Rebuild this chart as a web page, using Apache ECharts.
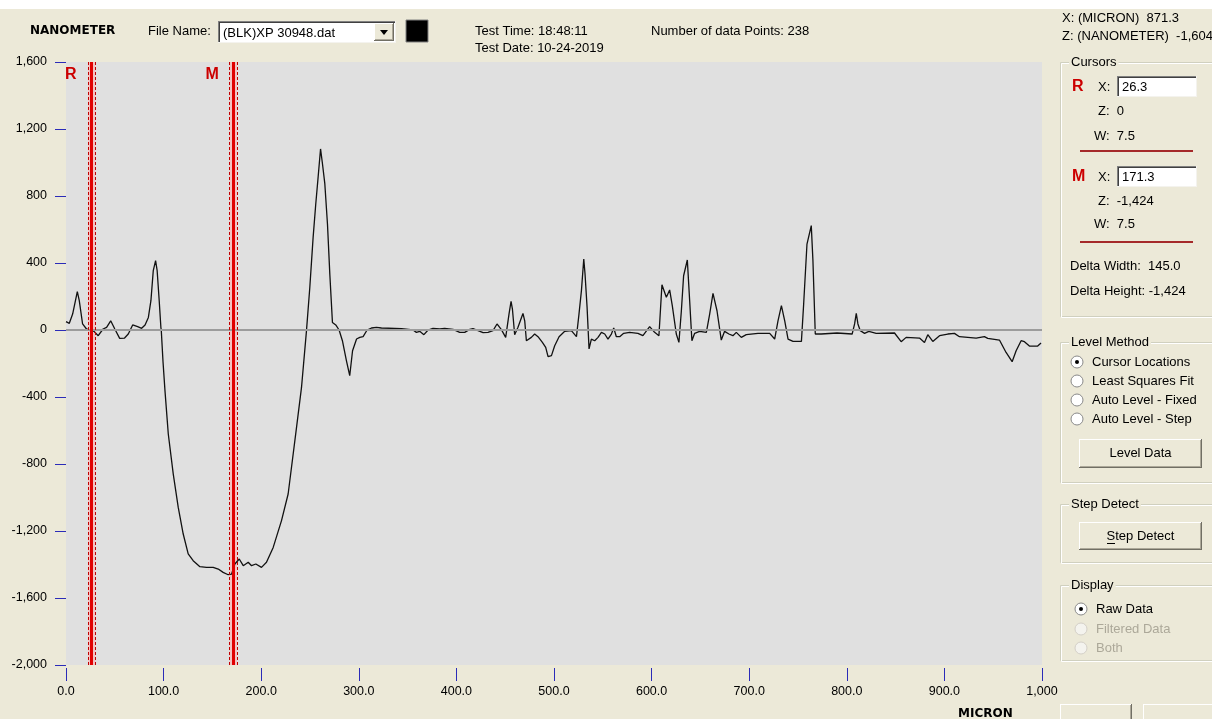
<!DOCTYPE html>
<html><head><meta charset="utf-8">
<script src="https://cdn.jsdelivr.net/npm/echarts@6/dist/echarts.min.js"></script>
<style>html,body{margin:0;padding:0;background:#ECE9D8;}#c{width:1212px;height:719px;}</style>
</head><body><div id="c"></div>
<script>
// ---------- data ----------
const xMicron = [0,3.4,6.8,11.6,13.6,17,21,24.6,28.7,33,38,41.6,45.8,50,55,60,63.8,68.3,73.4,77.5,81,84.4,87,89.4,91.8,93.4,95.5,97.2,97.6,99.4,101.4,104.8,109.9,115,120.1,125.2,130.3,137.2,144,150.8,156,161,166.2,169.7,173,177.5,181.6,186.7,190.1,194.5,200.3,205.4,212.3,220.8,227.6,236.2,241.3,246.4,249.8,253.2,255.9,258.3,260.8,262.8,265.2,267.9,270.3,273,276.4,279.8,283.2,287.3,290.7,293.6,297.7,301,304.4,308.5,313,318.1,323.2,343.7,355.6,359,362.4,366.7,371,376,383,388,396.6,403.4,408.5,413.7,417,422.2,427.3,432.4,437.5,441.6,446.1,450.5,453.9,456,457.4,459.7,463.1,468.2,470,471.7,476.8,480.2,483.6,488.1,491.5,493.9,497.4,500.7,505.2,511,517.8,523,525.6,528.1,530.5,531.8,533.9,535.9,538.3,541.7,545.1,548.6,552,555.3,558.8,561.2,563.9,567.3,571.4,577.5,586,591.1,598,603.1,607.5,610.6,615.1,618.5,621.2,625.3,628,630.5,632.8,636.6,639,641.3,644.1,649.2,656.1,659.5,662.9,667,671.4,674.8,679.2,683.3,686.8,691.9,697,709,721,726.1,729.5,733,736.4,739.8,744.9,753.5,755.8,759.2,763.6,765.3,767.7,773.8,790,805.5,808,809.7,811.4,813.8,818.2,822.6,830.1,848.9,855.7,860.8,874.5,879.6,883,888.1,895,903.5,910.3,915.4,932.5,941,944.4,956.4,963.2,969.4,973.5,978.6,982,987.1,995.6,999];
const zNano = [50,40,95,229,175,36,6,0,-8,-34,6,16,55,6,-50,-48,-24,30,20,10,30,75,175,354,414,354,175,16,0,-190,-362,-621,-860,-1059,-1218,-1337,-1377,-1413,-1417,-1417,-1427,-1447,-1461,-1457,-1397,-1367,-1407,-1387,-1407,-1397,-1417,-1387,-1298,-1138,-979,-581,-343,-4,254,553,752,911,1081,991,872,633,334,45,30,0,-64,-183,-273,-124,-54,-44,-40,0,12,16,12,8,0,-14,-8,-28,0,10,6,10,4,-14,-14,4,8,-4,-16,-14,-4,36,2,-44,95,171,125,-28,16,99,55,-64,-44,-24,-40,-74,-104,-159,-153,-94,-40,-8,-4,-40,95,235,424,334,135,-113,-54,-64,-44,-14,-24,-54,-24,12,-40,-40,-20,-14,-20,-34,20,-14,-34,270,195,239,145,-24,-74,115,324,418,175,-64,-20,-8,-14,95,219,115,-60,-8,-24,-34,-14,-44,-28,-20,-20,-54,55,145,55,-54,-68,-68,155,513,623,414,-24,-24,-18,-24,36,99,36,-4,-20,-8,-20,-18,-70,-44,-48,-74,-28,-68,-34,-24,-20,-40,-48,-40,-50,-60,-134,-189,-124,-64,-70,-96,-96,-78];
const xTickLabels = ['0.0','100.0','200.0','300.0','400.0','500.0','600.0','700.0','800.0','900.0','1,000'];
const yTickLabels = ['-2,000','-1,600','-1,200','-800','-400','0','400','800','1,200','1,600'];
const cursorNames = ['R','M'];
const cursorX = [26.3, 171.3];
const cursorW = 7.5;

// ---------- helpers for the window chrome ----------
const FONT = '"Liberation Sans", Arial, sans-serif';
const BOLDFONT = '"DejaVu Sans", Verdana, sans-serif';
const BEIGE = '#ECE9D8';
function txt(x, y, s, o) {
  o = o || {};
  return {type:'text', x:x, y:y, z:100, silent:true, style:{
    text:s, fill:o.fill||'#000', fontSize:o.size||13, fontWeight:o.weight||'normal',
    fontFamily:o.family||FONT, verticalAlign:'middle', align:o.align||'left',
    backgroundColor:o.bg||null, padding:o.pad||0}};
}
function rect(x,y,w,h,fill,stroke,lw){return {type:'rect',z:90,silent:true,shape:{x:x,y:y,width:w,height:h},style:{fill:fill||'none',stroke:stroke||null,lineWidth:lw||1}};}
function line(x1,y1,x2,y2,stroke,lw){return {type:'line',z:95,silent:true,shape:{x1:x1,y1:y1,x2:x2,y2:y2},style:{stroke:stroke,lineWidth:lw||1}};}
function groupBox(x1,y1,x2,y2,label){
  return [rect(x1+0.5,y1+0.5,x2-x1,y2-y1,'none','#D0D0BF',1),
          rect(x1+1.5,y1+1.5,x2-x1,y2-y1,'none','#FFFFFF',1),
          txt(x1+9, y1, label, {bg:BEIGE, pad:[0,2]})];
}
function button(x,y,w,h,label){
  const els=[rect(x,y,w,h,BEIGE,null),
    line(x,y+0.5,x+w,y+0.5,'#FFFFFF'), line(x+0.5,y,x+0.5,y+h,'#FFFFFF'),
    line(x,y+h-0.5,x+w,y+h-0.5,'#716F64'), line(x+w-0.5,y,x+w-0.5,y+h,'#716F64'),
    line(x+1,y+h-1.5,x+w-1,y+h-1.5,'#ACA899'), line(x+w-1.5,y+1,x+w-1.5,y+h-1,'#ACA899')];
  if(label) els.push(txt(x+w/2, y+h/2, label, {align:'center'}));
  return els;
}
function textBox(x,y,w,h,val){
  return [rect(x,y,w,h,'#FFFFFF',null),
    line(x,y+0.5,x+w,y+0.5,'#808080'), line(x+0.5,y,x+0.5,y+h,'#808080'),
    line(x+1,y+1.5,x+w-1,y+1.5,'#404040'), line(x+1.5,y+1,x+1.5,y+h-1,'#404040'),
    line(x,y+h-0.5,x+w,y+h-0.5,'#F4F3EE'), line(x+w-0.5,y,x+w-0.5,y+h,'#F4F3EE'),
    txt(x+5, y+h/2+1, val)];
}
function radio(cx,cy,label,checked,disabled){
  const els=[{type:'circle',z:95,silent:true,shape:{cx:cx,cy:cy,r:6},style:{fill:disabled?'#F4F3EE':'#FFFFFF',stroke:disabled?'#D4D0C8':'#8A8A8A',lineWidth:1}}];
  if(checked) els.push({type:'circle',z:96,silent:true,shape:{cx:cx,cy:cy,r:2},style:{fill:'#000'}});
  els.push(txt(cx+15, cy, label, {fill:disabled?'#ACA899':'#000'}));
  return els;
}

let G = [];
G.push(rect(0,0,1212,9,'#FFFFFF',null));
G.push(txt(30,31,'NANOMETER',{weight:'bold',size:12,family:BOLDFONT}));
G.push(txt(148,31,'File Name:'));
G = G.concat(textBox(218,21,178,22,'(BLK)XP 30948.dat'));
G = G.concat(button(374,23,20,18,null));
G.push({type:'polygon',z:100,silent:true,shape:{points:[[380,30],[388,30],[384,35]]},style:{fill:'#000'}});
G.push(rect(406,20,22,22,'#000000','#808080'));
G.push(txt(475,31,'Test Time: 18:48:11'));
G.push(txt(475,48,'Test Date: 10-24-2019'));
G.push(txt(651,31,'Number of data Points: 238'));
G.push(txt(1062,18,'X: (MICRON)  871.3'));
G.push(txt(1062,36,'Z: (NANOMETER)  -1,604'));
G.push(txt(958,714,'MICRON',{weight:'bold',size:12,family:BOLDFONT}));

// Cursors box
G = G.concat(groupBox(1060,62,1230,316,'Cursors'));
G.push(txt(1072,87,'R',{fill:'#CC0000',weight:'bold',size:16}));
G.push(txt(1098,87,'X:'));
G = G.concat(textBox(1117,76,80,21,String(cursorX[0])));
G.push(txt(1098,111,'Z:  0'));
G.push(txt(1094,136,'W:  ' + cursorW));
G.push(line(1080,151,1193,151,'#A52A2A',2));
G.push(txt(1072,177,'M',{fill:'#CC0000',weight:'bold',size:16}));
G.push(txt(1098,177,'X:'));
G = G.concat(textBox(1117,166,80,21,String(cursorX[1])));
G.push(txt(1098,201,'Z:  -1,424'));
G.push(txt(1094,224,'W:  ' + cursorW));
G.push(line(1080,242,1193,242,'#A52A2A',2));
G.push(txt(1070,266,'Delta Width:  145.0'));
G.push(txt(1070,291,'Delta Height: -1,424'));

// Level Method box
G = G.concat(groupBox(1060,342,1230,482,'Level Method'));
G = G.concat(radio(1077,362,'Cursor Locations',true,false));
G = G.concat(radio(1077,381,'Least Squares Fit',false,false));
G = G.concat(radio(1077,400,'Auto Level - Fixed',false,false));
G = G.concat(radio(1077,419,'Auto Level - Step',false,false));
G = G.concat(button(1079,439,123,29,'Level Data'));

// Step Detect box
G = G.concat(groupBox(1060,504,1230,562,'Step Detect'));
G = G.concat(button(1079,522,123,28,'Step Detect'));
G.push(line(1107,543.5,1115,543.5,'#000',1));

// Display box
G = G.concat(groupBox(1060,585,1230,660,'Display'));
G = G.concat(radio(1081,609,'Raw Data',true,false));
G = G.concat(radio(1081,629,'Filtered Data',false,true));
G = G.concat(radio(1081,648,'Both',false,true));

// bottom partial buttons
G = G.concat(button(1060,704,72,26,null));
G = G.concat(button(1143,704,80,26,null));

// ---------- chart ----------
const curve = xMicron.map((x,i)=>[x, zNano[i]]);
const cursorLines = [], cursorAreas = [], cursorLabels = [];
cursorX.forEach((cx,i)=>{
  cursorAreas.push([{xAxis: cx - cursorW/2}, {xAxis: cx + cursorW/2}]);
  cursorLines.push({xAxis: cx - cursorW/2, lineStyle:{color:'#C00000', width:1, type:[3,2]}});
  cursorLines.push({xAxis: cx + cursorW/2, lineStyle:{color:'#C00000', width:1, type:[3,2]}});
  cursorLines.push({xAxis: cx, lineStyle:{color:'#E00000', width:3, type:'solid'}});
  cursorLabels.push({coord:[cx, 1600], value: cursorNames[i],
    label:{show:true, formatter: cursorNames[i], offset:[-21,13], color:'#CC0000', fontWeight:'bold', fontSize:16, fontFamily:FONT}});
});

const chart = echarts.init(document.getElementById('c'), null, {renderer:'canvas'});
chart.setOption({
  animation:false,
  backgroundColor: BEIGE,
  grid:{left:66, right:170, top:62, bottom:54, show:true, backgroundColor:'#E0E0E0', borderWidth:0},
  xAxis:{type:'value', min:0, max:1000, interval:100, offset:3,
    axisLine:{show:false, onZero:false}, splitLine:{show:false},
    axisTick:{show:true, length:13, lineStyle:{color:'#2B2BB8', width:1}},
    axisLabel:{margin:17, color:'#000', fontSize:12.5, fontFamily:FONT,
      formatter:(v)=>xTickLabels[Math.round(v/100)]}},
  yAxis:{type:'value', min:-2000, max:1600, interval:400,
    axisLine:{show:false, onZero:false}, splitLine:{show:false},
    axisTick:{show:true, length:11, lineStyle:{color:'#2B2BB8', width:1}},
    axisLabel:{margin:19, color:'#000', fontSize:12.5, fontFamily:FONT,
      formatter:(v)=>yTickLabels[Math.round((v+2000)/400)]}},
  graphic:{elements:G},
  series:[
    {type:'line', name:'zero', data:[], z:1, silent:true,
      markLine:{silent:true, symbol:['none','none'], label:{show:false},
        data:[{yAxis:0, lineStyle:{color:'#9C9C9C', width:2, type:'solid'}}]}},
    {type:'line', name:'profile', data:curve, z:3, showSymbol:false, symbol:'none', silent:true,
      lineStyle:{color:'#111111', width:1.3},
      markArea:{silent:true, itemStyle:{color:'rgba(255,170,170,0.6)'}, data:cursorAreas},
      markLine:{silent:true, symbol:['none','none'], label:{show:false}, data:cursorLines},
      markPoint:{silent:true, symbol:'circle', symbolSize:1, itemStyle:{color:'rgba(0,0,0,0)'}, data:cursorLabels}}
  ]
});
</script></body></html>
